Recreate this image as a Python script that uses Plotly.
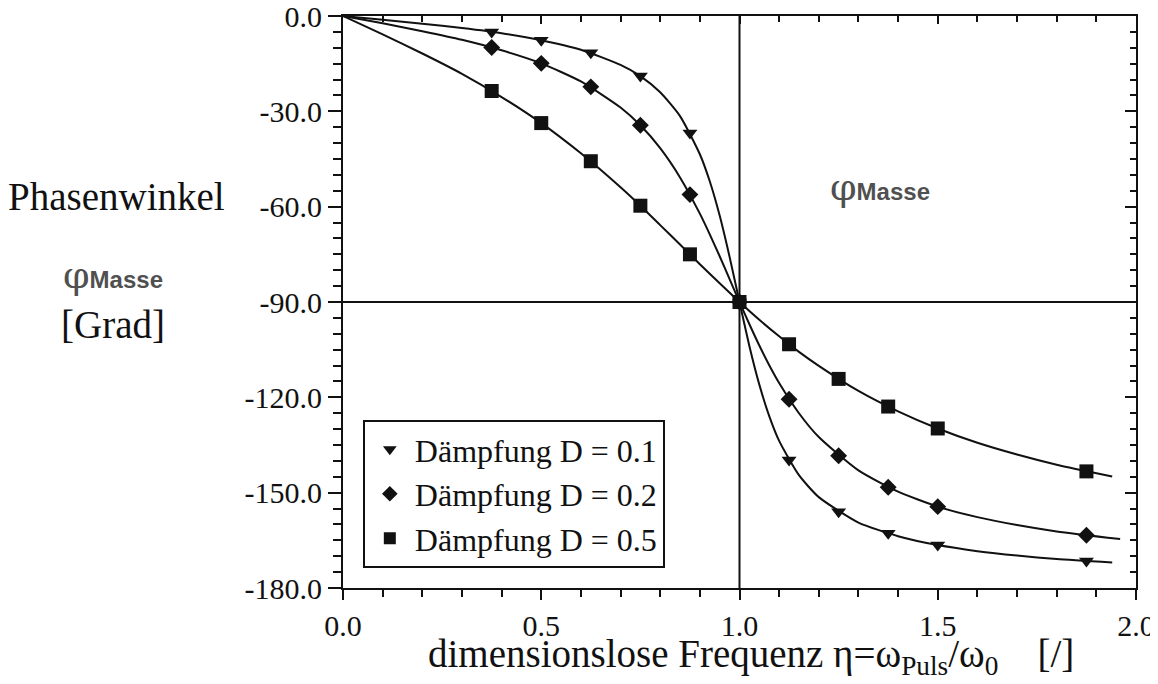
import plotly.graph_objects as go

# ---------------- data ----------------
eta_curve_01 = [0, 0.1, 0.2, 0.3, 0.4, 0.5, 0.6, 0.7, 0.75, 0.8, 0.85, 0.9, 0.925, 0.95, 0.975, 1.0,
                1.025, 1.05, 1.075, 1.1, 1.15, 1.2, 1.3, 1.4, 1.5, 1.6, 1.7, 1.8, 1.94]
phi_curve_01 = [0, -1.2, -2.4, -3.8, -5.4, -7.6, -10.6, -15.4, -18.9, -24.0, -31.5, -43.5, -52.0, -62.8, -75.8, -90.0,
                -103.9, -116.0, -125.9, -133.7, -144.5, -151.4, -159.4, -163.7, -166.5, -168.4, -169.8, -170.9, -172.0]

eta_curve_02 = [0, 0.1, 0.2, 0.3, 0.4, 0.5, 0.6, 0.7, 0.75, 0.8, 0.85, 0.9, 0.925, 0.95, 0.975, 1.0,
                1.025, 1.05, 1.075, 1.1, 1.15, 1.2, 1.3, 1.4, 1.5, 1.6, 1.7, 1.8, 1.96]
phi_curve_02 = [0, -2.3, -4.8, -7.5, -10.8, -14.9, -20.6, -28.8, -34.4, -41.6, -50.8, -62.2, -68.7, -75.6, -82.8, -90.0,
                -97.0, -103.7, -109.9, -115.5, -125.0, -132.5, -143.0, -149.7, -154.4, -157.7, -160.2, -162.2, -164.6]

eta_curve_05 = [0, 0.1, 0.2, 0.3, 0.4, 0.5, 0.6, 0.7, 0.75, 0.8, 0.85, 0.9, 0.95, 1.0,
                1.05, 1.1, 1.15, 1.2, 1.3, 1.4, 1.5, 1.6, 1.7, 1.8, 1.94]
phi_curve_05 = [0, -5.8, -11.8, -18.2, -25.5, -33.7, -43.2, -53.9, -59.7, -65.8, -71.9, -78.1, -84.1, -90.0,
                -95.6, -100.8, -105.7, -110.1, -118.0, -124.4, -129.8, -134.3, -138.0, -141.2, -144.9]

eta_points = [0.375, 0.5, 0.625, 0.75, 0.875, 1.0, 1.125, 1.25, 1.375, 1.5, 1.875]
phi_points_01 = [-5.0, -7.6, -11.6, -18.9, -36.8, -90.0, -139.7, -156.0, -162.8, -166.5, -171.5]
phi_points_02 = [-9.9, -14.9, -22.3, -34.4, -56.2, -90.0, -120.6, -138.4, -148.3, -154.4, -163.4]
phi_points_05 = [-23.6, -33.7, -45.7, -59.7, -75.0, -90.0, -103.3, -114.2, -122.9, -129.8, -143.3]

series_names = ["Dämpfung D = 0.1", "Dämpfung D = 0.2", "Dämpfung D = 0.5"]

x_tick_vals = [0.0, 0.5, 1.0, 1.5, 2.0]
x_tick_text = ["0.0", "0.5", "1.0", "1.5", "2.0"]
y_tick_vals = [0, -30, -60, -90, -120, -150, -180]
y_tick_text = ["0.0", "-30.0", "-60.0", "-90.0", "-120.0", "-150.0", "-180.0"]

x_range = [0, 2.0]
y_range = [-180, 0]
eta_ref = 1.0      # reference line at resonance
phi_ref = -90.0    # reference line at -90 degrees

# ---------------- styling ----------------
SERIF = "Liberation Serif, Times New Roman, serif"
BLACK = "#111111"
GREY = "#505050"
tick_font = dict(family=SERIF, size=30, color=BLACK)

fig = go.Figure()

curves = [(eta_curve_01, phi_curve_01), (eta_curve_02, phi_curve_02), (eta_curve_05, phi_curve_05)]
points = [phi_points_01, phi_points_02, phi_points_05]
symbols = ["triangle-down", "diamond", "square"]
sizes = [13, 13, 14]

for (ex, py) in curves:
    fig.add_trace(go.Scatter(x=ex, y=py, mode="lines",
                             line=dict(color=BLACK, width=2, shape="spline", smoothing=0.6),
                             showlegend=False, hoverinfo="skip"))

for name, pp, sym, sz in zip(series_names, points, symbols, sizes):
    fig.add_trace(go.Scatter(x=eta_points, y=pp, mode="markers", name=name,
                             marker=dict(symbol=sym, size=sz, color=BLACK, line=dict(width=0))))

# reference lines
fig.add_shape(type="line", xref="x", yref="paper", x0=eta_ref, x1=eta_ref, y0=0, y1=1,
              line=dict(color=BLACK, width=2), layer="below")
fig.add_shape(type="line", xref="paper", yref="y", x0=0, x1=1, y0=phi_ref, y1=phi_ref,
              line=dict(color=BLACK, width=2), layer="below")

axis_common = dict(showline=True, linecolor=BLACK, linewidth=2, showgrid=False, zeroline=False,
                   automargin=False, ticklabeloverflow="allow")

# the page body adds an 8 px offset, so the figure is sized to fit the 1158x684 window
fig.update_layout(
    width=1150, height=676,
    margin=dict(l=335, r=22, t=8, b=96),
    paper_bgcolor="white", plot_bgcolor="white",
    font=dict(family=SERIF, color=BLACK),
    xaxis=dict(range=x_range, tickmode="array", tickvals=x_tick_vals, ticktext=x_tick_text,
               ticks="outside", ticklen=10, tickwidth=2, tickcolor=BLACK, tickfont=tick_font,
               minor=dict(tickmode="linear", tick0=0, dtick=0.1, ticks="outside", ticklen=7,
                          tickwidth=2, tickcolor=BLACK),
               **axis_common),
    yaxis=dict(range=y_range, tickmode="array", tickvals=y_tick_vals, ticktext=y_tick_text,
               ticks="outside", ticklen=13, tickwidth=2, tickcolor=BLACK, tickfont=tick_font,
               minor=dict(tickmode="linear", tick0=0, dtick=5, ticks="outside", ticklen=8,
                          tickwidth=2, tickcolor=BLACK),
               **axis_common),
    xaxis2=dict(range=x_range, overlaying="x", side="top", anchor="y", tickmode="array",
                tickvals=x_tick_vals, showticklabels=False, ticks="inside", ticklen=8, tickwidth=2,
                tickcolor=BLACK,
                minor=dict(tickmode="linear", tick0=0, dtick=0.1, ticks="inside", ticklen=6,
                           tickwidth=2, tickcolor=BLACK),
                **axis_common),
    yaxis2=dict(range=y_range, overlaying="y", side="right", anchor="x", tickmode="array",
                tickvals=y_tick_vals, showticklabels=False, ticks="inside", ticklen=11, tickwidth=2,
                tickcolor=BLACK,
                minor=dict(tickmode="linear", tick0=0, dtick=5, ticks="inside", ticklen=6,
                           tickwidth=2, tickcolor=BLACK),
                **axis_common),
    legend=dict(x=0.025, y=0.294, xanchor="left", yanchor="top", bgcolor="white",
                bordercolor=BLACK, borderwidth=2, font=dict(family=SERIF, size=32, color=BLACK),
                itemsizing="constant", itemwidth=40, tracegroupgap=0),
    showlegend=True,
)

# keeps the mirrored (top / right) axes drawn
fig.add_trace(go.Scatter(x=[None], y=[None], xaxis="x2", yaxis="y2", showlegend=False, hoverinfo="skip"))

phi_label = ('<span style="font-family:DejaVu Serif;font-size:38px">φ</span>'
             '<span style="font-family:Liberation Sans;font-weight:bold;font-size:24px">Masse</span>')

fig.add_annotation(text="Phasenwinkel", xref="paper", yref="paper", x=-0.285, y=0.684,
                   xanchor="center", yanchor="middle", showarrow=False,
                   font=dict(family=SERIF, size=39, color=BLACK))
fig.add_annotation(text=phi_label, xref="paper", yref="paper", x=-0.29, y=0.547,
                   xanchor="center", yanchor="middle", showarrow=False, font=dict(color=GREY, size=24))
fig.add_annotation(text="[Grad]", xref="paper", yref="paper", x=-0.29, y=0.46,
                   xanchor="center", yanchor="middle", showarrow=False,
                   font=dict(family=SERIF, size=39, color=BLACK))
fig.add_annotation(text=phi_label, xref="paper", yref="paper", x=0.677, y=0.701,
                   xanchor="center", yanchor="middle", showarrow=False, font=dict(color=GREY, size=24))
fig.add_annotation(text="dimensionslose Frequenz η=ω<sub>Puls</sub>/ω<sub>0</sub>\u00a0\u00a0\u00a0\u00a0[/]",
                   xref="paper", yref="paper", x=0.514, y=-0.12, xanchor="center", yanchor="middle",
                   showarrow=False, font=dict(family=SERIF, size=39, color=BLACK))

fig.write_html("out.html")
